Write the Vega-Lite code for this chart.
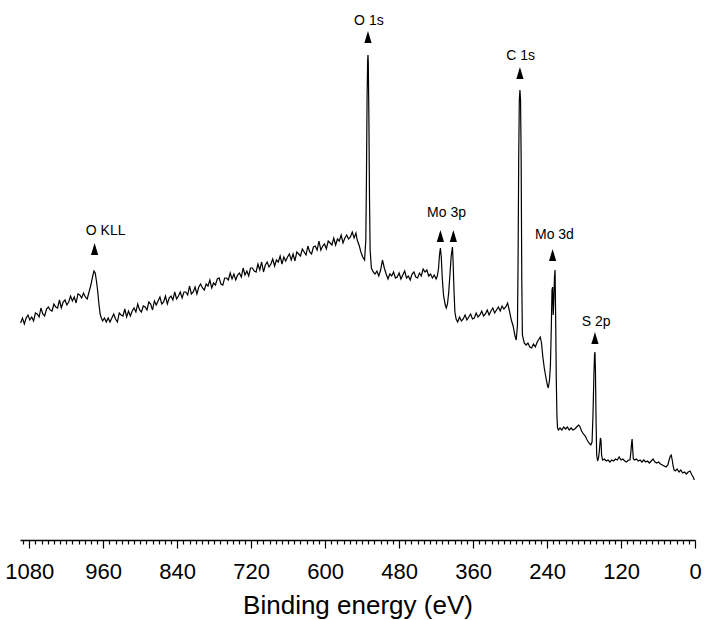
{
  "$schema": "https://vega.github.io/schema/vega-lite/v6.json",
  "autosize": {"type": "none"},
  "width": 675,
  "height": 540,
  "padding": {"left": 20, "top": 0, "right": 9, "bottom": 80},
  "datasets": {
    "spectrum": [
      {"energy": 1094, "intensity": 217}, {"energy": 1091, "intensity": 222}, {"energy": 1088, "intensity": 216},
      {"energy": 1085, "intensity": 222}, {"energy": 1082, "intensity": 225}, {"energy": 1079, "intensity": 220},
      {"energy": 1076, "intensity": 223}, {"energy": 1073, "intensity": 219}, {"energy": 1070, "intensity": 227},
      {"energy": 1067, "intensity": 226}, {"energy": 1064, "intensity": 223}, {"energy": 1061, "intensity": 232},
      {"energy": 1058, "intensity": 226}, {"energy": 1055, "intensity": 224}, {"energy": 1052, "intensity": 231},
      {"energy": 1049, "intensity": 233}, {"energy": 1046, "intensity": 230}, {"energy": 1043, "intensity": 229},
      {"energy": 1040, "intensity": 236}, {"energy": 1037, "intensity": 233}, {"energy": 1034, "intensity": 232},
      {"energy": 1031, "intensity": 240}, {"energy": 1028, "intensity": 232}, {"energy": 1025, "intensity": 238},
      {"energy": 1022, "intensity": 240}, {"energy": 1019, "intensity": 235}, {"energy": 1016, "intensity": 238},
      {"energy": 1013, "intensity": 244}, {"energy": 1010, "intensity": 239}, {"energy": 1007, "intensity": 243},
      {"energy": 1004, "intensity": 237}, {"energy": 1001, "intensity": 246}, {"energy": 998, "intensity": 245},
      {"energy": 995, "intensity": 242}, {"energy": 992, "intensity": 247}, {"energy": 989, "intensity": 243},
      {"energy": 986, "intensity": 241}, {"energy": 983, "intensity": 248}, {"energy": 980, "intensity": 255},
      {"energy": 977, "intensity": 264}, {"energy": 975, "intensity": 269}, {"energy": 973, "intensity": 267},
      {"energy": 971, "intensity": 259}, {"energy": 969, "intensity": 249}, {"energy": 967, "intensity": 236},
      {"energy": 965, "intensity": 226}, {"energy": 963, "intensity": 222}, {"energy": 961, "intensity": 219},
      {"energy": 958, "intensity": 222}, {"energy": 955, "intensity": 218},
      {"energy": 952, "intensity": 222}, {"energy": 949, "intensity": 218}, {"energy": 946, "intensity": 222},
      {"energy": 943, "intensity": 226}, {"energy": 940, "intensity": 221}, {"energy": 937, "intensity": 218},
      {"energy": 934, "intensity": 227}, {"energy": 931, "intensity": 225}, {"energy": 928, "intensity": 224},
      {"energy": 925, "intensity": 231}, {"energy": 922, "intensity": 223}, {"energy": 919, "intensity": 229},
      {"energy": 916, "intensity": 224}, {"energy": 913, "intensity": 229}, {"energy": 910, "intensity": 232},
      {"energy": 907, "intensity": 228}, {"energy": 904, "intensity": 236}, {"energy": 901, "intensity": 230},
      {"energy": 898, "intensity": 228}, {"energy": 895, "intensity": 234}, {"energy": 892, "intensity": 233},
      {"energy": 889, "intensity": 230}, {"energy": 886, "intensity": 238}, {"energy": 883, "intensity": 236},
      {"energy": 880, "intensity": 230}, {"energy": 877, "intensity": 239}, {"energy": 874, "intensity": 235},
      {"energy": 871, "intensity": 239}, {"energy": 868, "intensity": 243}, {"energy": 865, "intensity": 236},
      {"energy": 862, "intensity": 238}, {"energy": 859, "intensity": 244}, {"energy": 856, "intensity": 236},
      {"energy": 853, "intensity": 242}, {"energy": 850, "intensity": 244}, {"energy": 847, "intensity": 240},
      {"energy": 844, "intensity": 248}, {"energy": 841, "intensity": 241}, {"energy": 838, "intensity": 244},
      {"energy": 835, "intensity": 248}, {"energy": 832, "intensity": 242}, {"energy": 829, "intensity": 248},
      {"energy": 826, "intensity": 248}, {"energy": 823, "intensity": 245}, {"energy": 820, "intensity": 254},
      {"energy": 817, "intensity": 246}, {"energy": 814, "intensity": 248}, {"energy": 811, "intensity": 253},
      {"energy": 808, "intensity": 246}, {"energy": 805, "intensity": 253}, {"energy": 802, "intensity": 256},
      {"energy": 799, "intensity": 252}, {"energy": 796, "intensity": 250}, {"energy": 793, "intensity": 256},
      {"energy": 790, "intensity": 254}, {"energy": 787, "intensity": 260}, {"energy": 784, "intensity": 252},
      {"energy": 781, "intensity": 257}, {"energy": 778, "intensity": 255}, {"energy": 775, "intensity": 261},
      {"energy": 772, "intensity": 262}, {"energy": 769, "intensity": 256}, {"energy": 766, "intensity": 255},
      {"energy": 763, "intensity": 262}, {"energy": 760, "intensity": 262}, {"energy": 757, "intensity": 260},
      {"energy": 754, "intensity": 267}, {"energy": 751, "intensity": 261}, {"energy": 748, "intensity": 266},
      {"energy": 745, "intensity": 260}, {"energy": 742, "intensity": 265}, {"energy": 739, "intensity": 267},
      {"energy": 736, "intensity": 263}, {"energy": 733, "intensity": 272}, {"energy": 730, "intensity": 265},
      {"energy": 727, "intensity": 269}, {"energy": 724, "intensity": 264}, {"energy": 721, "intensity": 272},
      {"energy": 718, "intensity": 272}, {"energy": 715, "intensity": 269}, {"energy": 712, "intensity": 268},
      {"energy": 709, "intensity": 276}, {"energy": 706, "intensity": 270}, {"energy": 703, "intensity": 278},
      {"energy": 700, "intensity": 268}, {"energy": 697, "intensity": 275}, {"energy": 694, "intensity": 278},
      {"energy": 691, "intensity": 273}, {"energy": 688, "intensity": 276}, {"energy": 685, "intensity": 281},
      {"energy": 682, "intensity": 274}, {"energy": 679, "intensity": 280}, {"energy": 676, "intensity": 278},
      {"energy": 673, "intensity": 284}, {"energy": 670, "intensity": 276}, {"energy": 667, "intensity": 283},
      {"energy": 664, "intensity": 279}, {"energy": 661, "intensity": 283}, {"energy": 658, "intensity": 286},
      {"energy": 655, "intensity": 280}, {"energy": 652, "intensity": 286}, {"energy": 649, "intensity": 279},
      {"energy": 646, "intensity": 288}, {"energy": 643, "intensity": 286}, {"energy": 640, "intensity": 284},
      {"energy": 637, "intensity": 291}, {"energy": 634, "intensity": 288}, {"energy": 631, "intensity": 285},
      {"energy": 628, "intensity": 294}, {"energy": 625, "intensity": 288}, {"energy": 622, "intensity": 286},
      {"energy": 619, "intensity": 293}, {"energy": 616, "intensity": 294}, {"energy": 613, "intensity": 290},
      {"energy": 610, "intensity": 299}, {"energy": 607, "intensity": 290}, {"energy": 604, "intensity": 294},
      {"energy": 601, "intensity": 296}, {"energy": 598, "intensity": 291}, {"energy": 595, "intensity": 299},
      {"energy": 592, "intensity": 297}, {"energy": 589, "intensity": 295}, {"energy": 586, "intensity": 302},
      {"energy": 583, "intensity": 295}, {"energy": 580, "intensity": 301}, {"energy": 577, "intensity": 299},
      {"energy": 574, "intensity": 305}, {"energy": 571, "intensity": 297}, {"energy": 568, "intensity": 302},
      {"energy": 565, "intensity": 305}, {"energy": 562, "intensity": 301}, {"energy": 559, "intensity": 303},
      {"energy": 556, "intensity": 308}, {"energy": 553, "intensity": 302}, {"energy": 550, "intensity": 307},
      {"energy": 548, "intensity": 300}, {"energy": 545, "intensity": 295}, {"energy": 542, "intensity": 288},
      {"energy": 539, "intensity": 283}, {"energy": 536, "intensity": 280}, {"energy": 534, "intensity": 300},
      {"energy": 533, "intensity": 360}, {"energy": 532, "intensity": 440}, {"energy": 531, "intensity": 480},
      {"energy": 530.5, "intensity": 485}, {"energy": 530, "intensity": 478}, {"energy": 529, "intensity": 420},
      {"energy": 528, "intensity": 340}, {"energy": 527, "intensity": 290}, {"energy": 525, "intensity": 272},
      {"energy": 522, "intensity": 268}, {"energy": 519, "intensity": 266}, {"energy": 516, "intensity": 269},
      {"energy": 513, "intensity": 264}, {"energy": 510, "intensity": 270}, {"energy": 507, "intensity": 280},
      {"energy": 504, "intensity": 272}, {"energy": 501, "intensity": 266}, {"energy": 498, "intensity": 261},
      {"energy": 495, "intensity": 266}, {"energy": 492, "intensity": 264}, {"energy": 489, "intensity": 268},
      {"energy": 486, "intensity": 262}, {"energy": 483, "intensity": 263}, {"energy": 480, "intensity": 267},
      {"energy": 477, "intensity": 261}, {"energy": 474, "intensity": 265}, {"energy": 471, "intensity": 269},
      {"energy": 468, "intensity": 262}, {"energy": 465, "intensity": 264}, {"energy": 462, "intensity": 260},
      {"energy": 459, "intensity": 266}, {"energy": 456, "intensity": 268}, {"energy": 453, "intensity": 263},
      {"energy": 450, "intensity": 262}, {"energy": 447, "intensity": 267}, {"energy": 444, "intensity": 264},
      {"energy": 441, "intensity": 271}, {"energy": 438, "intensity": 268}, {"energy": 435, "intensity": 270},
      {"energy": 432, "intensity": 264}, {"energy": 429, "intensity": 266}, {"energy": 426, "intensity": 262},
      {"energy": 423, "intensity": 265}, {"energy": 420, "intensity": 261}, {"energy": 418, "intensity": 264},
      {"energy": 416, "intensity": 272}, {"energy": 414.5, "intensity": 285}, {"energy": 413, "intensity": 292},
      {"energy": 411.5, "intensity": 282}, {"energy": 410, "intensity": 262}, {"energy": 408, "intensity": 245},
      {"energy": 405.5, "intensity": 236}, {"energy": 403.5, "intensity": 232}, {"energy": 401.5, "intensity": 236},
      {"energy": 399.5, "intensity": 248}, {"energy": 397.5, "intensity": 266}, {"energy": 395.5, "intensity": 284},
      {"energy": 393.5, "intensity": 293}, {"energy": 392.5, "intensity": 280}, {"energy": 391, "intensity": 250},
      {"energy": 389.5, "intensity": 228}, {"energy": 387.5, "intensity": 221}, {"energy": 385, "intensity": 218},
      {"energy": 382, "intensity": 223}, {"energy": 379, "intensity": 219}, {"energy": 376, "intensity": 221},
      {"energy": 373, "intensity": 225}, {"energy": 370, "intensity": 220}, {"energy": 367, "intensity": 223},
      {"energy": 364, "intensity": 226}, {"energy": 361, "intensity": 221}, {"energy": 358, "intensity": 222},
      {"energy": 355, "intensity": 227}, {"energy": 352, "intensity": 223}, {"energy": 349, "intensity": 225},
      {"energy": 346, "intensity": 229}, {"energy": 343, "intensity": 224}, {"energy": 340, "intensity": 226},
      {"energy": 337, "intensity": 230}, {"energy": 334, "intensity": 225}, {"energy": 331, "intensity": 229},
      {"energy": 328, "intensity": 232}, {"energy": 325, "intensity": 227}, {"energy": 322, "intensity": 230},
      {"energy": 319, "intensity": 233}, {"energy": 316, "intensity": 229}, {"energy": 313, "intensity": 234},
      {"energy": 310, "intensity": 231}, {"energy": 307, "intensity": 233}, {"energy": 304, "intensity": 237},
      {"energy": 301, "intensity": 229}, {"energy": 298, "intensity": 220}, {"energy": 295, "intensity": 214},
      {"energy": 292, "intensity": 204}, {"energy": 290, "intensity": 200}, {"energy": 288, "intensity": 215},
      {"energy": 287, "intensity": 280}, {"energy": 286, "intensity": 380}, {"energy": 285, "intensity": 440},
      {"energy": 284, "intensity": 450}, {"energy": 283, "intensity": 440}, {"energy": 282, "intensity": 380},
      {"energy": 281, "intensity": 260}, {"energy": 280, "intensity": 205}, {"energy": 277, "intensity": 197},
      {"energy": 274, "intensity": 195}, {"energy": 271, "intensity": 197}, {"energy": 268, "intensity": 193},
      {"energy": 265, "intensity": 192}, {"energy": 262, "intensity": 196}, {"energy": 259, "intensity": 193},
      {"energy": 256, "intensity": 198}, {"energy": 253, "intensity": 201}, {"energy": 251, "intensity": 203},
      {"energy": 249, "intensity": 197}, {"energy": 247, "intensity": 184}, {"energy": 244.5, "intensity": 172},
      {"energy": 242, "intensity": 163}, {"energy": 239.5, "intensity": 155}, {"energy": 238, "intensity": 152},
      {"energy": 236, "intensity": 160}, {"energy": 234.5, "intensity": 175}, {"energy": 233, "intensity": 215},
      {"energy": 232, "intensity": 250}, {"energy": 231, "intensity": 253}, {"energy": 230, "intensity": 225},
      {"energy": 229, "intensity": 240}, {"energy": 228, "intensity": 262}, {"energy": 227, "intensity": 270},
      {"energy": 226, "intensity": 220}, {"energy": 225, "intensity": 160}, {"energy": 224, "intensity": 125},
      {"energy": 223, "intensity": 112}, {"energy": 221.5, "intensity": 110}, {"energy": 219, "intensity": 112},
      {"energy": 216, "intensity": 110}, {"energy": 213, "intensity": 113}, {"energy": 210, "intensity": 111},
      {"energy": 207, "intensity": 113}, {"energy": 204, "intensity": 110}, {"energy": 201, "intensity": 112},
      {"energy": 198, "intensity": 110}, {"energy": 195, "intensity": 111}, {"energy": 192, "intensity": 113},
      {"energy": 189, "intensity": 115}, {"energy": 187, "intensity": 114}, {"energy": 184, "intensity": 109},
      {"energy": 181, "intensity": 106}, {"energy": 178, "intensity": 104}, {"energy": 175, "intensity": 100},
      {"energy": 172, "intensity": 97}, {"energy": 169, "intensity": 95}, {"energy": 167, "intensity": 98},
      {"energy": 165.5, "intensity": 125}, {"energy": 164, "intensity": 165}, {"energy": 163, "intensity": 185},
      {"energy": 162.3, "intensity": 188}, {"energy": 161.5, "intensity": 170}, {"energy": 160.5, "intensity": 120},
      {"energy": 159.5, "intensity": 85}, {"energy": 158, "intensity": 79}, {"energy": 156.5, "intensity": 82},
      {"energy": 155, "intensity": 90}, {"energy": 153.5, "intensity": 102}, {"energy": 152.5, "intensity": 100},
      {"energy": 151.5, "intensity": 85}, {"energy": 150, "intensity": 80}, {"energy": 147, "intensity": 81},
      {"energy": 144, "intensity": 79}, {"energy": 141, "intensity": 80}, {"energy": 138, "intensity": 78},
      {"energy": 135, "intensity": 80}, {"energy": 132, "intensity": 79}, {"energy": 129, "intensity": 81},
      {"energy": 126, "intensity": 80}, {"energy": 123, "intensity": 83}, {"energy": 120, "intensity": 80},
      {"energy": 117, "intensity": 81}, {"energy": 114, "intensity": 79}, {"energy": 111, "intensity": 78},
      {"energy": 108, "intensity": 80}, {"energy": 105.5, "intensity": 80}, {"energy": 104, "intensity": 88},
      {"energy": 103, "intensity": 96}, {"energy": 102, "intensity": 101}, {"energy": 101, "intensity": 90},
      {"energy": 100, "intensity": 81}, {"energy": 98, "intensity": 80}, {"energy": 95, "intensity": 81},
      {"energy": 92, "intensity": 79}, {"energy": 89, "intensity": 80}, {"energy": 86, "intensity": 78},
      {"energy": 83, "intensity": 80}, {"energy": 80, "intensity": 78}, {"energy": 77, "intensity": 79},
      {"energy": 74, "intensity": 77}, {"energy": 71, "intensity": 79}, {"energy": 68, "intensity": 81},
      {"energy": 65, "intensity": 78}, {"energy": 62, "intensity": 77}, {"energy": 59, "intensity": 78},
      {"energy": 56, "intensity": 76}, {"energy": 53, "intensity": 75}, {"energy": 50, "intensity": 74},
      {"energy": 47, "intensity": 73}, {"energy": 44, "intensity": 75}, {"energy": 42, "intensity": 80},
      {"energy": 40, "intensity": 84}, {"energy": 38.5, "intensity": 85}, {"energy": 37, "intensity": 80},
      {"energy": 35.5, "intensity": 74}, {"energy": 34, "intensity": 70}, {"energy": 32, "intensity": 69},
      {"energy": 29, "intensity": 71}, {"energy": 26, "intensity": 68}, {"energy": 23, "intensity": 70},
      {"energy": 20, "intensity": 67}, {"energy": 17, "intensity": 68}, {"energy": 14, "intensity": 66},
      {"energy": 11, "intensity": 68}, {"energy": 8, "intensity": 69}, {"energy": 5, "intensity": 65},
      {"energy": 3, "intensity": 63}, {"energy": 1, "intensity": 60}
    ],
    "markers": [
      {"energy": 974, "intensity": 291},
      {"energy": 530.5, "intensity": 503},
      {"energy": 413, "intensity": 304},
      {"energy": 392, "intensity": 304},
      {"energy": 284, "intensity": 467},
      {"energy": 231, "intensity": 285},
      {"energy": 162.3, "intensity": 202}
    ],
    "labels": [
      {"label": "O KLL", "energy": 956, "intensity": 309},
      {"label": "O 1s", "energy": 529, "intensity": 519},
      {"label": "Mo 3p", "energy": 403, "intensity": 327},
      {"label": "C 1s", "energy": 283, "intensity": 484},
      {"label": "Mo 3d", "energy": 228, "intensity": 305},
      {"label": "S 2p", "energy": 160.5, "intensity": 218}
    ]
  },
  "encoding": {
    "x": {
      "field": "energy",
      "type": "quantitative",
      "scale": {"domain": [0, 1095], "reverse": true, "nice": false, "zero": false},
      "axis": {
        "title": "Binding energy (eV)",
        "values": [0, 10, 20, 30, 40, 50, 60, 70, 80, 90, 100, 110, 120, 130, 140, 150, 160, 170, 180, 190, 200, 210, 220, 230, 240, 250, 260, 270, 280, 290, 300, 310, 320, 330, 340, 350, 360, 370, 380, 390, 400, 410, 420, 430, 440, 450, 460, 470, 480, 490, 500, 510, 520, 530, 540, 550, 560, 570, 580, 590, 600, 610, 620, 630, 640, 650, 660, 670, 680, 690, 700, 710, 720, 730, 740, 750, 760, 770, 780, 790, 800, 810, 820, 830, 840, 850, 860, 870, 880, 890, 900, 910, 920, 930, 940, 950, 960, 970, 980, 990, 1000, 1010, 1020, 1030, 1040, 1050, 1060, 1070, 1080, 1090],
        "format": "d",
        "labelExpr": "datum.value % 120 === 0 ? datum.label : ''",
        "tickSize": {"condition": {"test": "datum.value % 120 === 0", "value": 8}, "value": 4},
        "labelOverlap": false,
        "labelFlush": false,
        "labelPadding": 13,
        "labelFont": "Liberation Sans",
        "labelFontSize": 22,
        "labelColor": "black",
        "domainColor": "black",
        "domainWidth": 1.5,
        "tickColor": "black",
        "tickWidth": 1.2,
        "grid": false,
        "titleFont": "Liberation Sans",
        "titleFontSize": 26,
        "titleFontWeight": "normal",
        "titleColor": "black",
        "titlePadding": 10
      }
    },
    "y": {
      "field": "intensity",
      "type": "quantitative",
      "scale": {"domain": [0, 540], "nice": false, "zero": false},
      "axis": null
    }
  },
  "layer": [
    {
      "data": {"name": "spectrum"},
      "mark": {"type": "line", "color": "black", "strokeWidth": 1.2}
    },
    {
      "data": {"name": "markers"},
      "mark": {"type": "point", "shape": "M-0.6,1L0,-1L0.6,1Z", "filled": true, "color": "black", "opacity": 1, "size": 144}
    },
    {
      "data": {"name": "labels"},
      "mark": {"type": "text", "font": "Liberation Sans", "fontSize": 14, "color": "black"},
      "encoding": {"text": {"field": "label"}}
    }
  ],
  "config": {"view": {"stroke": null}}
}
